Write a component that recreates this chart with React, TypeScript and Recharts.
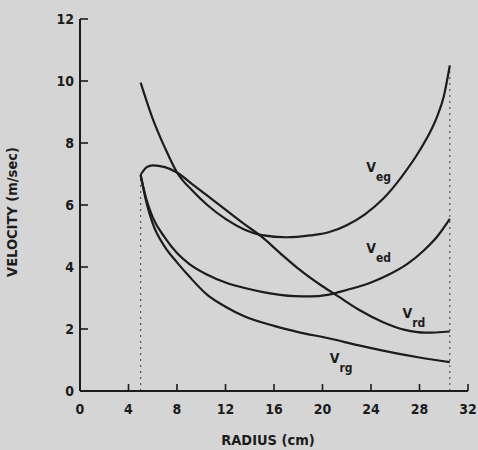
import { Line, LineChart, ReferenceDot, ReferenceLine, XAxis, YAxis } from "recharts";

const FONT = "'DejaVu Sans Condensed', 'Liberation Sans Narrow', sans-serif";
const INK = "#1c1c1c";

const X_TICKS = [0, 4, 8, 12, 16, 20, 24, 28, 32];
const Y_TICKS = [0, 2, 4, 6, 8, 10, 12];

// V_eg
const egRadius = [5, 6, 7, 8, 9.3, 10.5, 12, 13.5, 15, 17, 19, 20.5, 22, 23.5, 25, 26.6, 28, 29, 29.5, 30, 30.5];
const egVelocity = [9.95, 8.78, 7.85, 7.05, 6.45, 6.0, 5.55, 5.22, 5.03, 4.96, 5.02, 5.12, 5.35, 5.7, 6.2, 6.95, 7.75, 8.45, 8.9, 9.5, 10.5];

// V_ed
const edRadius = [5, 5.5, 6, 7, 8, 9, 10.5, 12, 13.5, 15, 17.7, 19, 20.4, 22, 24, 25.4, 27, 28.4, 29.5, 30.5];
const edVelocity = [6.97, 6.15, 5.6, 4.95, 4.45, 4.1, 3.75, 3.5, 3.33, 3.2, 3.06, 3.05, 3.1, 3.26, 3.5, 3.74, 4.1, 4.55, 5.0, 5.55];

// V_rd
const rdRadius = [5, 5.5, 6, 7, 8, 9.3, 10.5, 12, 13.5, 15, 16.5, 18, 20, 21.3, 23, 25, 26.8, 28.5, 30.5];
const rdVelocity = [6.97, 7.22, 7.28, 7.22, 7.05, 6.66, 6.3, 5.85, 5.4, 4.97, 4.45, 3.95, 3.38, 3.05, 2.62, 2.22, 1.97, 1.88, 1.92];

// V_rg
const rgRadius = [5, 5.5, 6, 7, 8, 9, 10.5, 12, 13.5, 16, 18, 20.5, 23, 26, 28, 30.5];
const rgVelocity = [6.97, 6.05, 5.4, 4.65, 4.15, 3.7, 3.1, 2.72, 2.42, 2.1, 1.9, 1.7, 1.47, 1.22, 1.08, 0.93];

const CURVE_LABELS = [
  { sub: "eg", x: 23.6, y: 7.06 },
  { sub: "ed", x: 23.6, y: 4.45 },
  { sub: "rd", x: 26.6, y: 2.35 },
  { sub: "rg", x: 20.6, y: 0.9 },
];

const toPoints = (xs: number[], ys: number[]) => xs.map((x, i) => ({ x, v: ys[i] }));

const series = [
  { key: "eg", data: toPoints(egRadius, egVelocity) },
  { key: "ed", data: toPoints(edRadius, edVelocity) },
  { key: "rd", data: toPoints(rdRadius, rdVelocity) },
  { key: "rg", data: toPoints(rgRadius, rgVelocity) },
];

function YTick({ x, y, payload }: any) {
  return (
    <g>
      {payload.value !== 0 && <line x1={x} x2={x + 8} y1={y} y2={y} stroke={INK} strokeWidth={1.6} />}
      <text x={x - 6} y={y + 5} textAnchor="end" fontSize={14} fontWeight="bold" fontFamily={FONT} fill={INK}>
        {payload.value}
      </text>
    </g>
  );
}

function XTick({ x, y, payload }: any) {
  return (
    <g>
      {payload.value !== 0 && <line x1={x} x2={x} y1={y} y2={y - 7} stroke={INK} strokeWidth={1.6} />}
      <text x={x} y={y + 23} textAnchor="middle" fontSize={14} fontWeight="bold" fontFamily={FONT} fill={INK}>
        {payload.value}
      </text>
    </g>
  );
}

function CurveLabel({ viewBox, sub }: any) {
  return (
    <text x={viewBox.x} y={viewBox.y} fontFamily={FONT} fontWeight="bold" fill={INK}>
      <tspan fontSize={14}>V</tspan>
      <tspan fontSize={12} dy={9}>{sub}</tspan>
    </text>
  );
}

export default function App() {
  return (
    <div style={{ position: "absolute", left: 0, top: 0, width: 478, height: 450, background: "#d5d5d5" }}>
      <LineChart width={478} height={450} margin={{ top: 19, right: 10, bottom: 0, left: 0 }}>
        <XAxis
          type="number"
          dataKey="x"
          domain={[0, 32]}
          ticks={X_TICKS}
          height={59}
          tickSize={0}
          tickMargin={0}
          tickLine={false}
          tick={<XTick />}
          axisLine={{ stroke: INK, strokeWidth: 2 }}
          label={{
            content: ({ viewBox }: any) => (
              <text
                x={viewBox.x + viewBox.width / 2 - 6}
                y={viewBox.y + 54}
                textAnchor="middle"
                fontSize={14.5}
                fontWeight="bold"
                fontFamily={FONT}
                fill={INK}
              >
                RADIUS (cm)
              </text>
            ),
          }}
        />
        <YAxis
          type="number"
          dataKey="v"
          domain={[0, 12]}
          ticks={Y_TICKS}
          width={80}
          tickSize={0}
          tickMargin={0}
          tickLine={false}
          tick={<YTick />}
          axisLine={{ stroke: INK, strokeWidth: 2 }}
          label={{
            content: ({ viewBox }: any) => {
              const cx = viewBox.x + 17;
              const cy = viewBox.y + viewBox.height / 2 + 7;
              return (
                <text
                  x={cx}
                  y={cy}
                  transform={`rotate(-90 ${cx} ${cy})`}
                  textAnchor="middle"
                  fontSize={14.5}
                  fontWeight="bold"
                  fontFamily={FONT}
                  fill={INK}
                >
                  VELOCITY (m/sec)
                </text>
              );
            },
          }}
        />
        <ReferenceLine
          segment={[{ x: 5, y: 0 }, { x: 5, y: 6.97 }]}
          stroke="#555"
          strokeWidth={1.2}
          strokeDasharray="2 4"
        />
        <ReferenceLine
          segment={[{ x: 30.5, y: 0 }, { x: 30.5, y: 10.5 }]}
          stroke="#555"
          strokeWidth={1.2}
          strokeDasharray="2 4"
        />
        {series.map((s) => (
          <Line
            key={s.key}
            data={s.data}
            dataKey="v"
            type="monotone"
            stroke={INK}
            strokeWidth={2.2}
            dot={false}
            activeDot={false}
            isAnimationActive={false}
          />
        ))}
        {CURVE_LABELS.map((l) => (
          <ReferenceDot
            key={l.sub}
            x={l.x}
            y={l.y}
            r={0}
            fill="none"
            stroke="none"
            label={{ content: (p: any) => <CurveLabel viewBox={p.viewBox} sub={l.sub} /> }}
          />
        ))}
      </LineChart>
    </div>
  );
}
